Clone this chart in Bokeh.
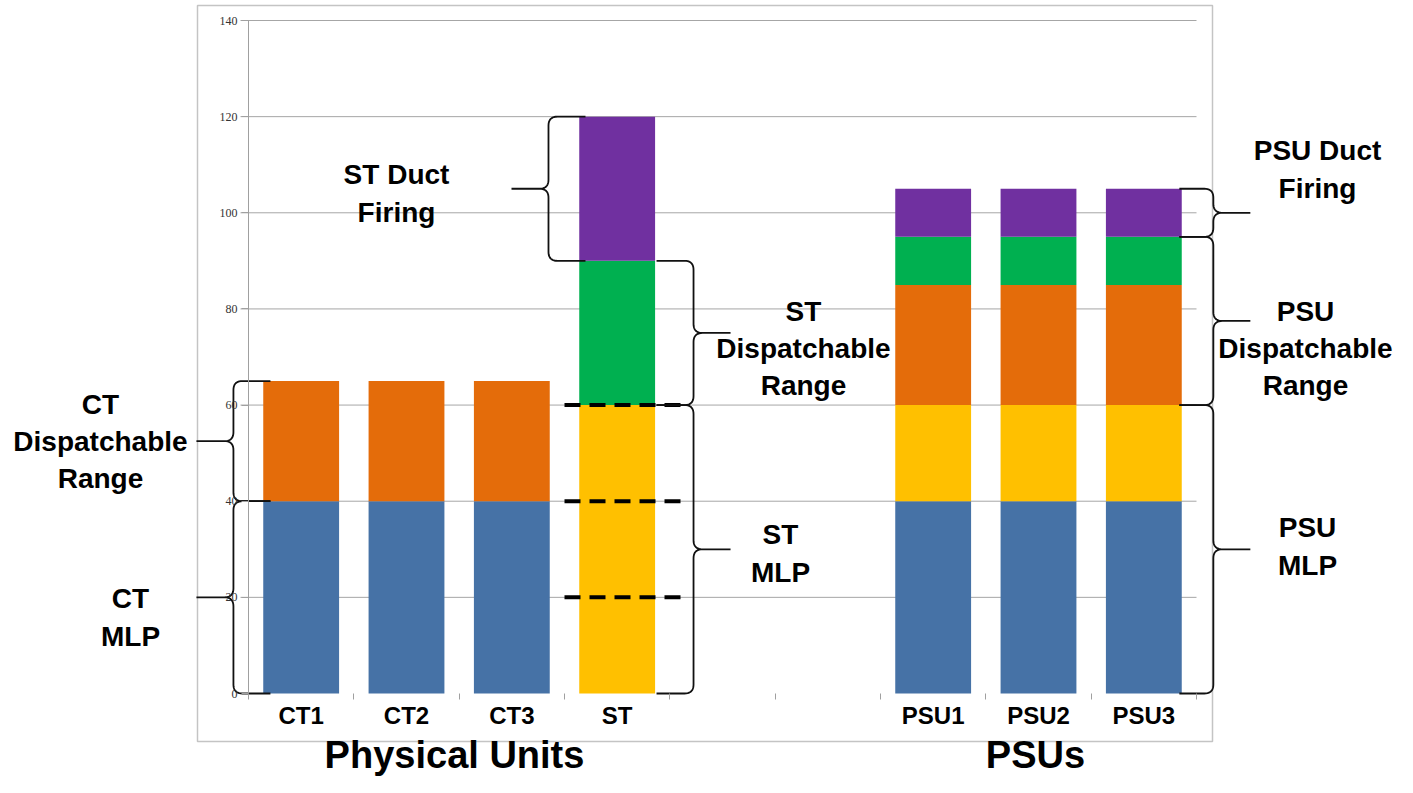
from bokeh.plotting import figure
from bokeh.models import ColumnDataSource, FixedTicker, LinearAxis, Range1d
from bokeh.core.properties import value
from bokeh.embed import file_html
from bokeh.resources import INLINE

# ---------------- data ----------------
categories = ["CT1", "CT2", "CT3", "ST", "", "", "PSU1", "PSU2", "PSU3"]
blue_mlp = [40, 40, 40, 0, 0, 0, 40, 40, 40]
yellow_mlp = [0, 0, 0, 60, 0, 0, 20, 20, 20]
orange_disp = [25, 25, 25, 0, 0, 0, 25, 25, 25]
green_disp = [0, 0, 0, 30, 0, 0, 10, 10, 10]
purple_duct = [0, 0, 0, 30, 0, 0, 10, 10, 10]
y_ticks = [0, 20, 40, 60, 80, 100, 120, 140]
st_dash_levels = [20, 40, 60]

layers = ["blue", "yellow", "orange", "green", "purple"]
colors = ["#4672A6", "#FFC000", "#E46C0A", "#00B050", "#7030A0"]

# ---------------- geometry (picture px -> data) ----------------
W, H = 1397, 777
n = len(categories)
PXU = 948 / n               # px per x unit
PYU = 673 / 140             # px per y unit
X0 = -0.5 - 248 / PXU
X1 = X0 + W / PXU
Y1 = 140 + 20 / PYU
Y0 = Y1 - H / PYU


def px(xp):
    return X0 + xp / PXU


def py(yp):
    return Y1 - yp / PYU


p = figure(width=W, height=H, output_backend="svg", toolbar_location=None,
           x_range=Range1d(X0, X1), y_range=Range1d(Y0, Y1),
           x_axis_location=None, y_axis_location=None,
           min_border=0, min_border_left=0, min_border_right=0,
           min_border_top=0, min_border_bottom=0)
p.outline_line_color = None
p.background_fill_color = "white"
for g in p.grid:
    g.visible = False
p.xgrid.visible = False
p.ygrid.visible = False

# outer chart box
p.quad(left=[px(197)], right=[px(1212)], top=[py(5)], bottom=[py(741)],
       fill_color=None, line_color="#c4c4c4", line_width=1.5)

# gridlines from tick values
gl = [t for t in y_ticks if t > 0]
p.segment(x0=[-0.5 - 8 / PXU] * len(gl), x1=[n - 0.5] * len(gl), y0=gl, y1=gl,
          line_color="#a6a6a6", line_width=1)

# stacked bars
xs = list(range(n))
src = ColumnDataSource(dict(x=xs, blue=blue_mlp, yellow=yellow_mlp, orange=orange_disp,
                            green=green_disp, purple=purple_duct))
p.vbar_stack(layers, x="x", width=0.72, source=src, color=colors, line_color=None)

# ST dashed lines
st_i = categories.index("ST")
p.segment(x0=[st_i - 0.5] * 3, x1=[st_i - 0.5 + 116 / PXU] * 3,
          y0=st_dash_levels, y1=st_dash_levels,
          line_color="black", line_width=4, line_dash="16 9")


# ---------------- braces ----------------
def quad_pts(a, c, b, m=10):
    out = []
    for k in range(1, m + 1):
        t = k / m
        out.append(((1 - t) ** 2 * a[0] + 2 * (1 - t) * t * c[0] + t * t * b[0],
                    (1 - t) ** 2 * a[1] + 2 * (1 - t) * t * c[1] + t * t * b[1]))
    return out


def brace(lo, hi, spine, d, hook=37, tip=37, r=9):
    yt, yb = hi * PYU, lo * PYU
    ym = (yt + yb) / 2
    pts = [(-d * hook, yt), (-d * r, yt)]
    pts += quad_pts((-d * r, yt), (0, yt), (0, yt - r))
    pts.append((0, ym + r))
    pts += quad_pts((0, ym + r), (0, ym), (d * r, ym))
    pts.append((d * tip, ym))
    pts.append((d * r, ym))
    pts += quad_pts((d * r, ym), (0, ym), (0, ym - r))
    pts.append((0, yb + r))
    pts += quad_pts((0, yb + r), (0, yb), (-d * r, yb))
    pts.append((-d * hook, yb))
    bx = [spine + a / PXU for a, _ in pts]
    by = [b / PYU for _, b in pts]
    return bx, by


ct = 0
ps = categories.index("PSU3")
ct_top = blue_mlp[ct] + orange_disp[ct]
st_mid = yellow_mlp[st_i] + green_disp[st_i]
st_top = st_mid + purple_duct[st_i]
psu_mlp = blue_mlp[ps] + yellow_mlp[ps]
psu_disp = psu_mlp + orange_disp[ps] + green_disp[ps]
psu_top = psu_disp + purple_duct[ps]

braces = [
    (blue_mlp[ct], ct_top, ct - 0.643, -1, 37),
    (0, blue_mlp[ct], ct - 0.643, -1, 37),
    (st_mid, st_top, st_i - 0.652, -1, 37),
    (yellow_mlp[st_i], st_mid, st_i + 0.725, 1, 37),
    (0, yellow_mlp[st_i], st_i + 0.725, 1, 37),
    (psu_disp, psu_top, ps + 0.66, 1, 34),
    (psu_mlp, psu_disp, ps + 0.66, 1, 34),
    (0, psu_mlp, ps + 0.66, 1, 34),
]
bxs, bys = [], []
for lo, hi, sp, d, hk in braces:
    bx, by = brace(lo, hi, sp, d, hook=hk)
    bxs.append(bx)
    bys.append(by)
p.multi_line(bxs, bys, line_color="#111111", line_width=1.8)

# ---------------- annotation texts ----------------
ann_text = ["CT\nDispatchable\nRange", "CT\nMLP", "ST Duct\nFiring",
            "ST\nDispatchable\nRange", "ST\nMLP", "PSU Duct\nFiring",
            "PSU\nDispatchable\nRange", "PSU\nMLP"]
ann_x = [px(100), px(130), px(396), px(803), px(780), px(1317), px(1305), px(1307)]
ann_y = [py(441), py(617), py(193), py(348), py(553), py(169), py(348), py(546)]
p.text(x=ann_x, y=ann_y, text=ann_text, text_font=value("Liberation Sans"),
       text_font_style="bold", text_font_size="28px", text_align="center",
       text_baseline="middle", text_color="black", text_line_height=1.2)

group_text = ["Physical Units", "PSUs"]
p.text(x=[px(454), px(1035)], y=[py(775)] * 2, text=group_text,
       text_font=value("Liberation Sans"), text_font_style="bold",
       text_font_size="38px", text_align="center", text_baseline="bottom",
       text_color="black")

# ---------------- axes ----------------
yax = LinearAxis(fixed_location=-0.5, ticker=FixedTicker(ticks=y_ticks), bounds=(0, 140))
yax.axis_line_color = "#a0a0a0"
yax.major_tick_line_color = "#a0a0a0"
yax.major_tick_out = 7
yax.major_tick_in = 0
yax.minor_tick_line_color = None
yax.major_label_text_font = "Liberation Serif"
yax.major_label_text_font_size = "12px"
yax.major_label_text_color = "#333333"
yax.major_label_standoff = 4
p.add_layout(yax, "left")

lab_ticks = [i for i, c in enumerate(categories) if c]
xax = LinearAxis(fixed_location=0,
                 ticker=FixedTicker(ticks=lab_ticks, minor_ticks=[i - 0.5 for i in range(n + 1)]),
                 bounds=(-0.5, n - 0.5))
xax.major_label_overrides = {i: categories[i] for i in lab_ticks}
xax.axis_line_color = None
xax.major_tick_line_color = None
xax.major_tick_out = 0
xax.major_tick_in = 0
xax.minor_tick_line_color = "#a0a0a0"
xax.minor_tick_out = 6
xax.minor_tick_in = 0
xax.major_label_text_font = "Liberation Sans"
xax.major_label_text_font_style = "bold"
xax.major_label_text_font_size = "24px"
xax.major_label_text_color = "black"
xax.major_label_standoff = 2
p.add_layout(xax, "below")

open("out.html", "w").write(file_html(p, INLINE))
